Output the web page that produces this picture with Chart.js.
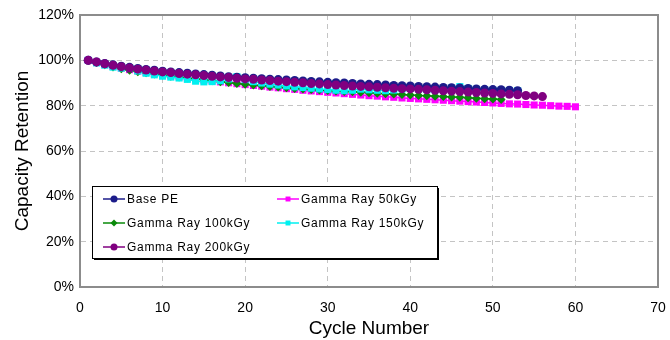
<!DOCTYPE html>
<html>
<head>
<meta charset="utf-8">
<script src="https://cdn.jsdelivr.net/npm/chart.js@4"></script>
<style>
  html, body { margin: 0; padding: 0; background: #fff; }
  #wrap { width: 670px; height: 340px; }
</style>
</head>
<body>
<div id="wrap"><canvas id="chart" width="670" height="340"></canvas></div>
<script>
  // values (capacity retention, %)
  const basePE = [100, 99.3, 98.6, 98.0, 97.4, 96.9, 96.4, 96.0, 95.6, 95.2,
    94.9, 94.6, 94.3, 94.0, 93.7, 93.4, 93.1, 92.8, 92.5, 92.3,
    92.1, 91.9, 91.7, 91.5, 91.3, 91.1, 90.9, 90.7, 90.5, 90.3,
    90.1, 90.0, 89.8, 89.6, 89.4, 89.3, 89.1, 88.9, 88.8, 88.7,
    88.5, 88.4, 88.2, 88.0, 87.9, 87.8, 87.6, 87.4, 87.2, 87.1,
    87.0, 86.8, 86.6];
  const gamma50 = [100, 99.0, 98.1, 97.3, 96.6, 95.9, 95.3, 94.7, 94.2, 93.7,
    93.2, 92.7, 92.2, 91.8, 91.3, 90.9, 90.5, 90.1, 89.7, 89.3,
    88.9, 88.6, 88.2, 87.9, 87.5, 87.2, 86.8, 86.5, 86.2, 85.9,
    85.6, 85.3, 85.0, 84.7, 84.4, 84.2, 83.9, 83.7, 83.4, 83.2,
    83.0, 82.8, 82.6, 82.4, 82.2, 82.0, 81.8, 81.6, 81.4, 81.2,
    81.0, 80.8, 80.7, 80.5, 80.3, 80.2, 80.0, 79.8, 79.7, 79.5];
  const gamma100 = [100, 99.0, 98.0, 97.1, 96.3, 95.6, 95.0, 94.5, 94.0, 93.5,
    93.0, 92.6, 92.2, 91.8, 91.4, 91.0, 90.6, 90.2, 89.8, 89.4,
    89.1, 88.8, 88.5, 88.2, 87.9, 87.6, 87.3, 87.1, 86.9, 86.7,
    86.5, 86.3, 86.1, 85.9, 85.7, 85.5, 85.3, 85.1, 84.9, 84.7,
    84.5, 84.4, 84.2, 84.0, 83.8, 83.7, 83.5, 83.3, 83.1, 82.9,
    82.7];
  const gamma150 = [100, 98.9, 97.9, 97.0, 96.6, 96.6, 95.3, 94.3, 93.6, 93.0,
    92.6, 92.2, 91.6, 90.8, 90.5, 90.6, 91.0, 91.8, 92.8, 91.5,
    90.6, 90.0, 89.5, 89.1, 88.7, 88.3, 88.0, 87.7, 87.4, 87.1,
    86.8, 86.6, 86.8, 87.3, 87.0, 86.8, 86.6, 86.9, 87.4, 87.6,
    87.3, 87.1, 87.0, 87.2, 87.8, 88.4, 87.6, 87.2, 87.0, 86.8,
    86.7, 86.7, 86.6];
  const gamma200 = [100, 99.3, 98.5, 97.8, 97.2, 96.6, 96.1, 95.7, 95.3, 94.9,
    94.6, 94.2, 93.9, 93.6, 93.3, 93.0, 92.7, 92.4, 92.1, 91.8,
    91.6, 91.3, 91.1, 90.8, 90.6, 90.3, 90.1, 89.8, 89.6, 89.3,
    89.1, 88.9, 88.7, 88.5, 88.3, 88.1, 87.9, 87.7, 87.5, 87.4,
    87.2, 87.0, 86.8, 86.6, 86.4, 86.2, 86.0, 85.8, 85.6, 85.4,
    85.2, 85.0, 84.8, 84.5, 84.3, 84.0];

  const seriesNames = ["Base PE", "Gamma Ray 50kGy", "Gamma Ray 100kGy", "Gamma Ray 150kGy", "Gamma Ray 200kGy"];
  const seriesColors = ["#1c1c8a", "#ff00ff", "#0a8a0a", "#00f0f0", "#800080"];
  const seriesMarkers = ["circle", "rect", "rectRot", "rect", "circle"];
  const seriesRadius = [4.5, 5, 4.5, 5, 4.5];
  const seriesValues = [basePE, gamma50, gamma100, gamma150, gamma200];
  // drawing order: lower number drawn on top
  const seriesLayer = [2, 5, 4, 3, 1];

  const FONT = "'Liberation Sans', Arial, sans-serif";

  function toPoints(values) {
    return values.map((v, i) => ({ x: i + 1, y: v }));
  }

  const datasets = seriesValues.map((values, i) => ({
    label: seriesNames[i],
    data: toPoints(values),
    borderColor: seriesColors[i],
    backgroundColor: seriesColors[i],
    borderWidth: 1.5,
    pointStyle: seriesMarkers[i],
    pointRadius: seriesRadius[i],
    pointBorderWidth: 0,
    order: seriesLayer[i],
    tension: 0,
  }));

  // framed plot area with a grey border
  const framePlugin = {
    id: "frame",
    afterDatasetsDraw(chart) {
      const { ctx, chartArea: a } = chart;
      ctx.save();
      ctx.strokeStyle = "#8c8c8c";
      ctx.lineWidth = 2;
      ctx.strokeRect(a.left, a.top, a.right - a.left, a.bottom - a.top);
      ctx.restore();
    },
  };

  // legend box inside the plot, two columns
  const boxLegendPlugin = {
    id: "boxLegend",
    afterDraw(chart) {
      const { ctx } = chart;
      const left = 92, top = 186, width = 345, height = 72;
      ctx.save();
      ctx.fillStyle = "#000";
      ctx.fillRect(left + 2, top + 2, width, height);
      ctx.fillStyle = "#fff";
      ctx.fillRect(left, top, width, height);
      ctx.strokeStyle = "#000";
      ctx.lineWidth = 1;
      ctx.strokeRect(left + 0.5, top + 0.5, width, height);

      ctx.font = "12px " + FONT;
      ctx.letterSpacing = "0.7px";
      ctx.textBaseline = "middle";
      chart.data.datasets.forEach((ds, i) => {
        const col = i % 2;
        const row = Math.floor(i / 2);
        const x0 = col === 0 ? 103 : 277;
        const y = 199 + row * 24;
        ctx.strokeStyle = ds.borderColor;
        ctx.lineWidth = 1.5;
        ctx.beginPath();
        ctx.moveTo(x0, y);
        ctx.lineTo(x0 + 22, y);
        ctx.stroke();
        ctx.fillStyle = ds.backgroundColor;
        Chart.helpers.drawPoint(ctx, { pointStyle: ds.pointStyle, radius: 3.5, borderWidth: 0 }, x0 + 11, y);
        ctx.fillStyle = "#000";
        ctx.fillText(ds.label, x0 + 24, y + 1);
      });
      ctx.restore();
    },
  };

  new Chart(document.getElementById("chart"), {
    type: "line",
    data: { datasets },
    options: {
      responsive: false,
      animation: false,
      devicePixelRatio: 1,
      layout: { padding: { left: 0, right: 12, top: 15, bottom: 0 } },
      plugins: { legend: { display: false }, tooltip: { enabled: false } },
      scales: {
        x: {
          type: "linear",
          min: 0,
          max: 70,
          ticks: { stepSize: 10, maxRotation: 0, color: "#000", padding: 13, font: { family: FONT, size: 14 } },
          grid: { color: "#c4c4c4", drawTicks: false },
          border: { display: true, color: "#8c8c8c", width: 2, dash: [5, 4] },
          title: { display: true, text: "Cycle Number", color: "#000", font: { family: FONT, size: 19 }, padding: { top: 4, bottom: 0 } },
          afterFit(scale) {
            scale.height = 53;
            scale.paddingLeft = 0;
            scale.paddingRight = 0;
          },
        },
        y: {
          min: 0,
          max: 120,
          ticks: { stepSize: 20, color: "#000", padding: 6, font: { family: FONT, size: 14 }, callback: (v) => v + "%" },
          grid: { color: "#c4c4c4", drawTicks: false },
          border: { display: true, color: "#8c8c8c", width: 2, dash: [5, 4] },
          title: { display: true, text: "Capacity Retention", color: "#000", font: { family: FONT, size: 19 }, padding: { top: 11, bottom: 4 } },
          afterFit(scale) { scale.width = 80; },
        },
      },
    },
    plugins: [framePlugin, boxLegendPlugin],
  });
</script>
</body>
</html>
